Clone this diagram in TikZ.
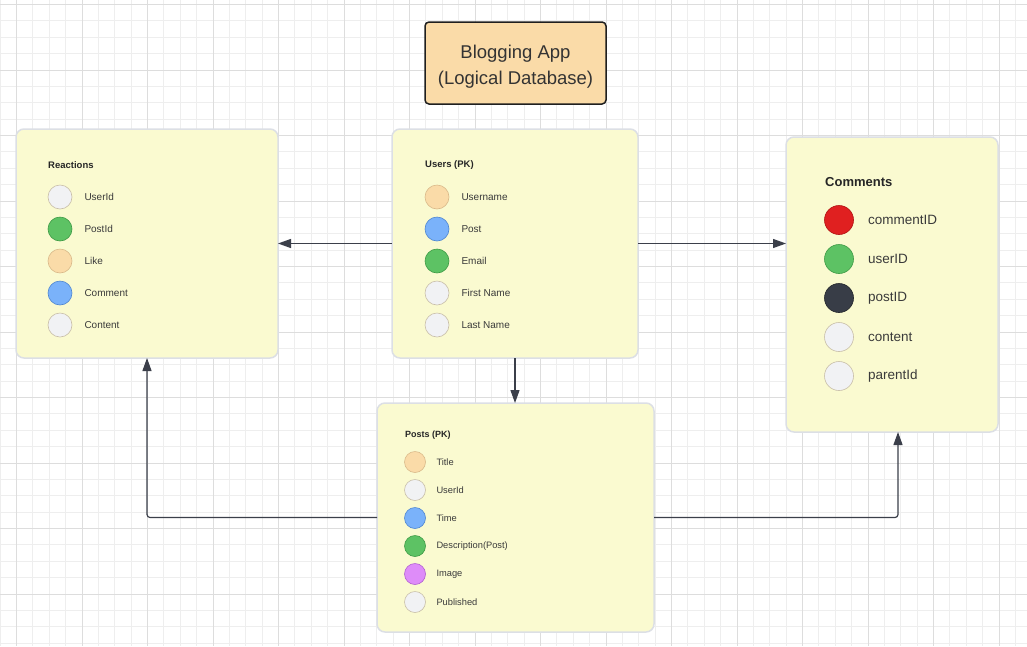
\documentclass[tikz,border=0pt]{standalone}
\usepackage{fontspec}
\setmainfont{Liberation Sans}
\usetikzlibrary{arrows.meta,positioning}

\definecolor{gridminor}{HTML}{EEEEEE}
\definecolor{gridmajor}{HTML}{DDDDDD}
\definecolor{boxfill}{HTML}{FAFAD0}
\definecolor{boxline}{HTML}{DCDFE5}
\definecolor{titlefill}{HTML}{FADBA8}
\definecolor{linkcol}{HTML}{3B3F4A}
\definecolor{textcol}{HTML}{3A3A3A}

\tikzset{
  table/.style={draw=boxline, line width=1.5pt, fill=boxfill, rounded corners=8pt,
    inner sep=0pt, outer sep=0pt, minimum width=#1},
  heading/.style={anchor=west, inner sep=0pt, font=\bfseries, text=black!85},
  field/.style={anchor=west, inner sep=0pt, text=textcol},
  fielddot/.style={circle, inner sep=0pt, minimum size=#1, line width=0.6pt},
  cgray/.style={fill={rgb,255:red,241;green,242;blue,244}, draw={rgb,255:red,200;green,190;blue,168}},
  cgreen/.style={fill={rgb,255:red,93;green,194;blue,100}, draw={rgb,255:red,62;green,154;blue,69}},
  cpeach/.style={fill={rgb,255:red,250;green,219;blue,168}, draw={rgb,255:red,217;green,185;blue,138}},
  cblue/.style={fill={rgb,255:red,122;green,178;blue,250}, draw={rgb,255:red,79;green,134;blue,208}},
  cpurple/.style={fill={rgb,255:red,222;green,140;blue,249}, draw={rgb,255:red,176;green,96;blue,208}},
  cred/.style={fill={rgb,255:red,224;green,32;blue,32}, draw={rgb,255:red,176;green,16;blue,16}},
  cdark/.style={fill={rgb,255:red,56;green,61;blue,71}, draw={rgb,255:red,32;green,35;blue,40}},
  link/.style={draw=linkcol, line width=1.2pt, rounded corners=3pt,
    -{Triangle[length=13pt,width=9pt]}},
}

\begin{document}
\begin{tikzpicture}[x=1pt,y=-1pt]
  \useasboundingbox[fill=white] (0,0) rectangle (1027,646);

  % background grid
  \foreach \i in {0,...,62} {
    \draw[gridminor, line width=0.8pt] ({0.125+\i*16.375},0) -- ++(0,646);
  }
  \foreach \i in {0,...,39} {
    \draw[gridminor, line width=0.8pt] (0,{4.5+\i*16.375}) -- ++(1027,0);
  }
  \foreach \i in {0,...,15} {
    \draw[gridmajor, line width=0.8pt] ({16.5+\i*65.5},0) -- ++(0,646);
  }
  \foreach \i in {0,...,9} {
    \draw[gridmajor, line width=0.8pt] (0,{4.5+\i*65.5}) -- ++(1027,0);
  }

  % title
  \node[draw=black!88, line width=1.5pt, fill=titlefill, rounded corners=4pt,
    minimum width=181pt, minimum height=82pt, text=black!80,
    font=\fontsize{18.5}{26}\selectfont] (title) at (515.5,63)
    {\raisebox{-3pt}[\height][\depth]{\begin{tabular}{@{}c@{}}Blogging App\\(Logical Database)\end{tabular}}};

  % tables
  \node[table=262pt, minimum height=229pt] (react) at (147,243.5) {};
  \node[table=246pt, minimum height=229pt] (users) at (515,243.5) {};
  \node[table=212pt, minimum height=295pt] (comm) at (892,284.5) {};
  \node[table=277pt, minimum height=229pt] (posts) at (515.5,517.5) {};

  % reactions
  \node[heading, font=\fontsize{9.5}{11}\selectfont\bfseries] (reacthead) at (48,165) {Reactions};
  \foreach \i/\c/\l in {1/cgray/UserId, 2/cgreen/PostId, 3/cpeach/Like, 4/cblue/Comment, 5/cgray/Content} {
    \node[fielddot=24pt, \c] (r\i) at (60, 165+32*\i) {};
    \node[field, font=\fontsize{10}{12}\selectfont] (rl\i) at ([xshift=12pt]r\i.east) {\l};
  }

  % users
  \node[heading, font=\fontsize{9.5}{11}\selectfont\bfseries] (usershead) at (425,165) {Users (PK)};
  \foreach \i/\c/\l in {1/cpeach/Username, 2/cblue/Post, 3/cgreen/Email, 4/cgray/First Name, 5/cgray/Last Name} {
    \node[fielddot=24pt, \c] (u\i) at (437, 165+32*\i) {};
    \node[field, font=\fontsize{10}{12}\selectfont] (ul\i) at ([xshift=12pt]u\i.east) {\l};
  }

  % comments
  \node[heading, font=\fontsize{13}{15}\selectfont\bfseries] (commhead) at (825,182) {Comments};
  \foreach \i/\c/\l in {1/cred/commentID, 2/cgreen/userID, 3/cdark/postID, 4/cgray/content, 5/cgray/parentId} {
    \node[fielddot=29pt, \c] (c\i) at (839, 181+39*\i) {};
    \node[field, font=\fontsize{13.5}{16}\selectfont] (cl\i) at ([xshift=14pt]c\i.east) {\l};
  }

  % posts
  \node[heading, font=\fontsize{9}{11}\selectfont\bfseries] (postshead) at (405,435) {Posts (PK)};
  \foreach \i/\c/\l in {1/cpeach/Title, 2/cgray/UserId, 3/cblue/Time, 4/cgreen/Description(Post), 5/cpurple/Image, 6/cgray/Published} {
    \node[fielddot=21pt, \c] (p\i) at (415, 434+28*\i) {};
    \node[field, font=\fontsize{9.3}{11}\selectfont] (pl\i) at ([xshift=10.5pt]p\i.east) {\l};
  }

  % relations
  \draw[link] (users.west) -- (react.east);
  \draw[link] (users.east) -- (users.east -| comm.west);
  \draw[link] (users.south) -- (users.south |- posts.north);
  \draw[link] (posts.west) -| (react.south);
  \draw[link] (posts.east) -| ([xshift=6pt]comm.south);

\end{tikzpicture}
\end{document}
